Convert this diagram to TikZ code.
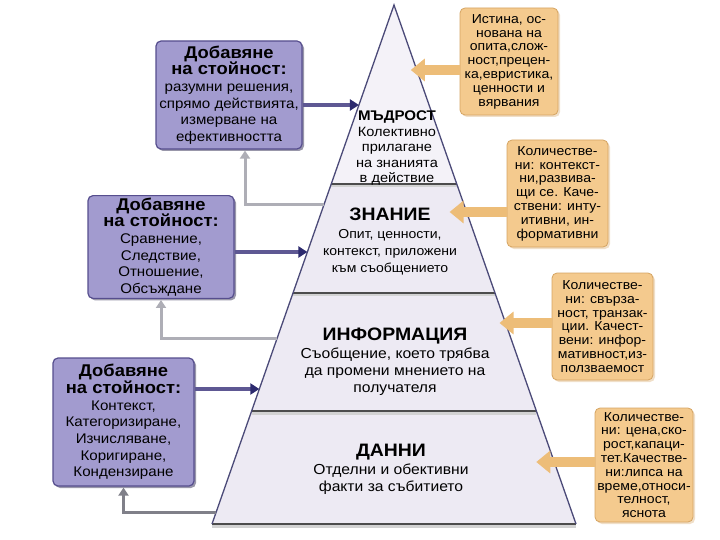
\documentclass[tikz,border=0pt]{standalone}
\usepackage{fontspec}
\setmainfont{Liberation Sans}[FakeStretch=1.08]
\usepackage{xcolor}
\usepackage{tikz}
\usetikzlibrary{arrows.meta,positioning,calc,shadows}
\definecolor{valfill}{HTML}{A29BCF}
\definecolor{valdraw}{HTML}{564E8E}
\definecolor{valline}{HTML}{5E5893}
\definecolor{valtip}{HTML}{2C2A6E}
\definecolor{notefill}{HTML}{F4CA8E}
\definecolor{notedraw}{HTML}{D5A462}
\definecolor{noteline}{HTML}{EDBD78}
\definecolor{pyrfill}{HTML}{EDEAF3}
\definecolor{pyrtop}{HTML}{F4F2F8}
\definecolor{pyredge}{HTML}{4B4A78}
\definecolor{backline}{HTML}{AEAEB6}
\definecolor{backdark}{HTML}{808089}
\newcommand{\valhead}[1]{{\fontsize{17}{17}\selectfont\bfseries #1}}
\newcommand{\levelhead}[1]{{\fontsize{18}{18}\selectfont\bfseries #1}}
\tikzset{
	valbox/.style={draw=valdraw, fill=valfill, line width=1.2pt, rounded corners=5pt,
		align=center, inner sep=2pt, font=\fontsize{14}{16.7}\selectfont,
		drop shadow={shadow xshift=2pt, shadow yshift=-2pt, fill=valdraw!60!black, opacity=0.5}},
	notebox/.style={draw=notedraw, fill=notefill, line width=0.8pt, rounded corners=5pt,
		align=center, inner sep=1pt, font=\fontsize{13}{13.8}\selectfont,
		drop shadow={shadow xshift=2pt, shadow yshift=-2pt, fill=notedraw!70, opacity=0.5}},
	leveltext/.style={align=center, inner sep=0pt},
	addarrow/.style={draw=valline, line width=3.5pt, -{Triangle[width=11pt,length=9pt,color=valtip]}},
	backarrow/.style={draw=backline, line width=3pt, -{Triangle[width=10pt,length=8pt]}},
	notearrow/.style={draw=noteline, line width=10pt, -{Triangle[width=22pt,length=14pt]}},
	levelline/.style={draw=gray!60!black, line width=1.2pt},
	levelshade/.style={draw=gray!35, line width=3pt}
}

\begin{document}
\begin{tikzpicture}[x=1pt, y=-1pt]
	\useasboundingbox (0,0) rectangle (720,540);
	
	%% -- Pyramid
	\coordinate (apex) at (394,5);
	\coordinate (bl) at (212,524);
	\coordinate (br) at (576,524);
	\foreach \n/\y in {1/184,2/293,3/411}{
		\coordinate (l\n) at ($(apex)!{(\y-5)/519}!(bl)$);
		\coordinate (r\n) at ($(apex)!{(\y-5)/519}!(br)$);
	}
	\fill[pyrfill] (apex) -- (bl) -- (br) -- cycle;
	\fill[pyrtop] (apex) -- (l1) -- (r1) -- cycle;
	\foreach \n in {1,2,3}{
		\draw[levelshade] ([yshift=-2pt]l\n) -- ([yshift=-2pt]r\n);
		\draw[levelline] (l\n) -- (r\n);
	}
	\draw[levelshade] ([yshift=-2pt]bl) -- ([yshift=-2pt]br);
	\draw[levelline] (bl) -- (br);
	\draw[pyredge, line width=1.3pt] (bl) -- (apex) -- (br);
	
	%% -- Level texts
	\node[leveltext, font=\fontsize{13.5}{15.5}\selectfont] (wisdom) at (397,148)
	{{\fontsize{14}{14}\selectfont\bfseries МЪДРОСТ}\\Колективно\\прилагане\\на знанията\\в действие};
	\node[leveltext, font=\fontsize{13}{17}\selectfont] (knowledge) at (390,242)
	{\levelhead{ЗНАНИЕ}\\[1pt]Опит, ценности,\\контекст, приложени\\към съобщението};
	\node[leveltext, font=\fontsize{14.5}{17}\selectfont] (information) at (395,362)
	{\levelhead{ИНФОРМАЦИЯ}\\[1pt]Съобщение, което трябва\\да промени мнението на\\получателя};
	\node[leveltext, font=\fontsize{14.5}{17}\selectfont] (data) at (391,469)
	{\levelhead{ДАННИ}\\[1pt]Отделни и обективни\\факти за събитието};
	
	%% -- Value adding boxes (left)
	\node[valbox, minimum width=146pt, minimum height=108pt] (add1) at (229,95)
	{\valhead{Добавяне}\\\valhead{на стойност:}\\разумни решения,\\спрямо действията,\\измерване на\\ефективността};
	\node[valbox, minimum width=146pt, minimum height=102pt] (add2) at (161,247)
	{\valhead{Добавяне}\\\valhead{на стойност:}\\Сравнение,\\Следствие,\\Отношение,\\Обсъждане};
	\node[valbox, minimum width=141pt, minimum height=128pt] (add3) at (123.5,422)
	{\valhead{Добавяне}\\\valhead{на стойност:}\\Контекст,\\Категоризиране,\\Изчисляване,\\Коригиране,\\Кондензиране};
	
	%% -- Arrows into the pyramid
	\foreach \n/\y in {1/105,2/252,3/389}{
		\coordinate (w\n) at ($(apex)!{(\y-5)/519}!(bl)$);
	}
	\draw[addarrow] (add1.east |- w1) -- (w1);
	\draw[addarrow] (add2.east |- w2) -- (w2);
	\draw[addarrow] (add3.east |- w3) -- (w3);
	
	%% -- Return paths up to the boxes
	\foreach \n/\y in {1/205,2/338,3/513}{
		\coordinate (g\n) at ($(apex)!{(\y-5)/519}!(bl)$);
	}
	\draw[backarrow] (g1) -| ([xshift=16pt, yshift=-1pt]add1.south);
	\draw[backarrow] (g2) -| ([yshift=-1pt]add2.south);
	\draw[backarrow, draw=backdark] (g3) -| ([yshift=-1pt]add3.south);
	
	%% -- Notes (right)
	\node[notebox, minimum width=98pt, minimum height=107pt] (note1) at (509,61.5)
	{Истина, ос-\\нована на\\опита,слож-\\ност,прецен-\\ка,евристика,\\ценности и\\вярвания};
	\node[notebox, minimum width=101pt, minimum height=107pt] (note2) at (557.5,193.5)
	{Количестве-\\ни: контекст-\\ни,развива-\\щи се. Каче-\\ствени: инту-\\итивни, ин-\\формативни};
	\node[notebox, minimum width=101pt, minimum height=107pt] (note3) at (602.5,326.5)
	{Количестве-\\ни: свърза-\\ност, транзак-\\ции. Качест-\\вени: инфор-\\мативност,из-\\ползваемост};
	\node[notebox, minimum width=98pt, minimum height=114pt] (note4) at (644,465)
	{Количестве-\\ни: цена,ско-\\рост,капаци-\\тет.Качестве-\\ни:липса на\\време,относи-\\телност,\\яснота};
	
	%% -- Note arrows
	\foreach \n/\y in {1/70,2/212,3/323,4/462}{
		\coordinate (t\n) at ($(apex)!{(\y-5)/519}!(br)$);
	}
	\draw[notearrow] (note1.west |- t1) -- ([xshift=-6pt]t1);
	\draw[notearrow] (note2.west |- t2) -- ([xshift=-17pt]t2);
	\draw[notearrow] (note3.west |- t3) -- ([xshift=-6pt]t3);
	\draw[notearrow] (note4.west |- t4) -- ([xshift=-18pt]t4);
	
\end{tikzpicture}
\end{document}
